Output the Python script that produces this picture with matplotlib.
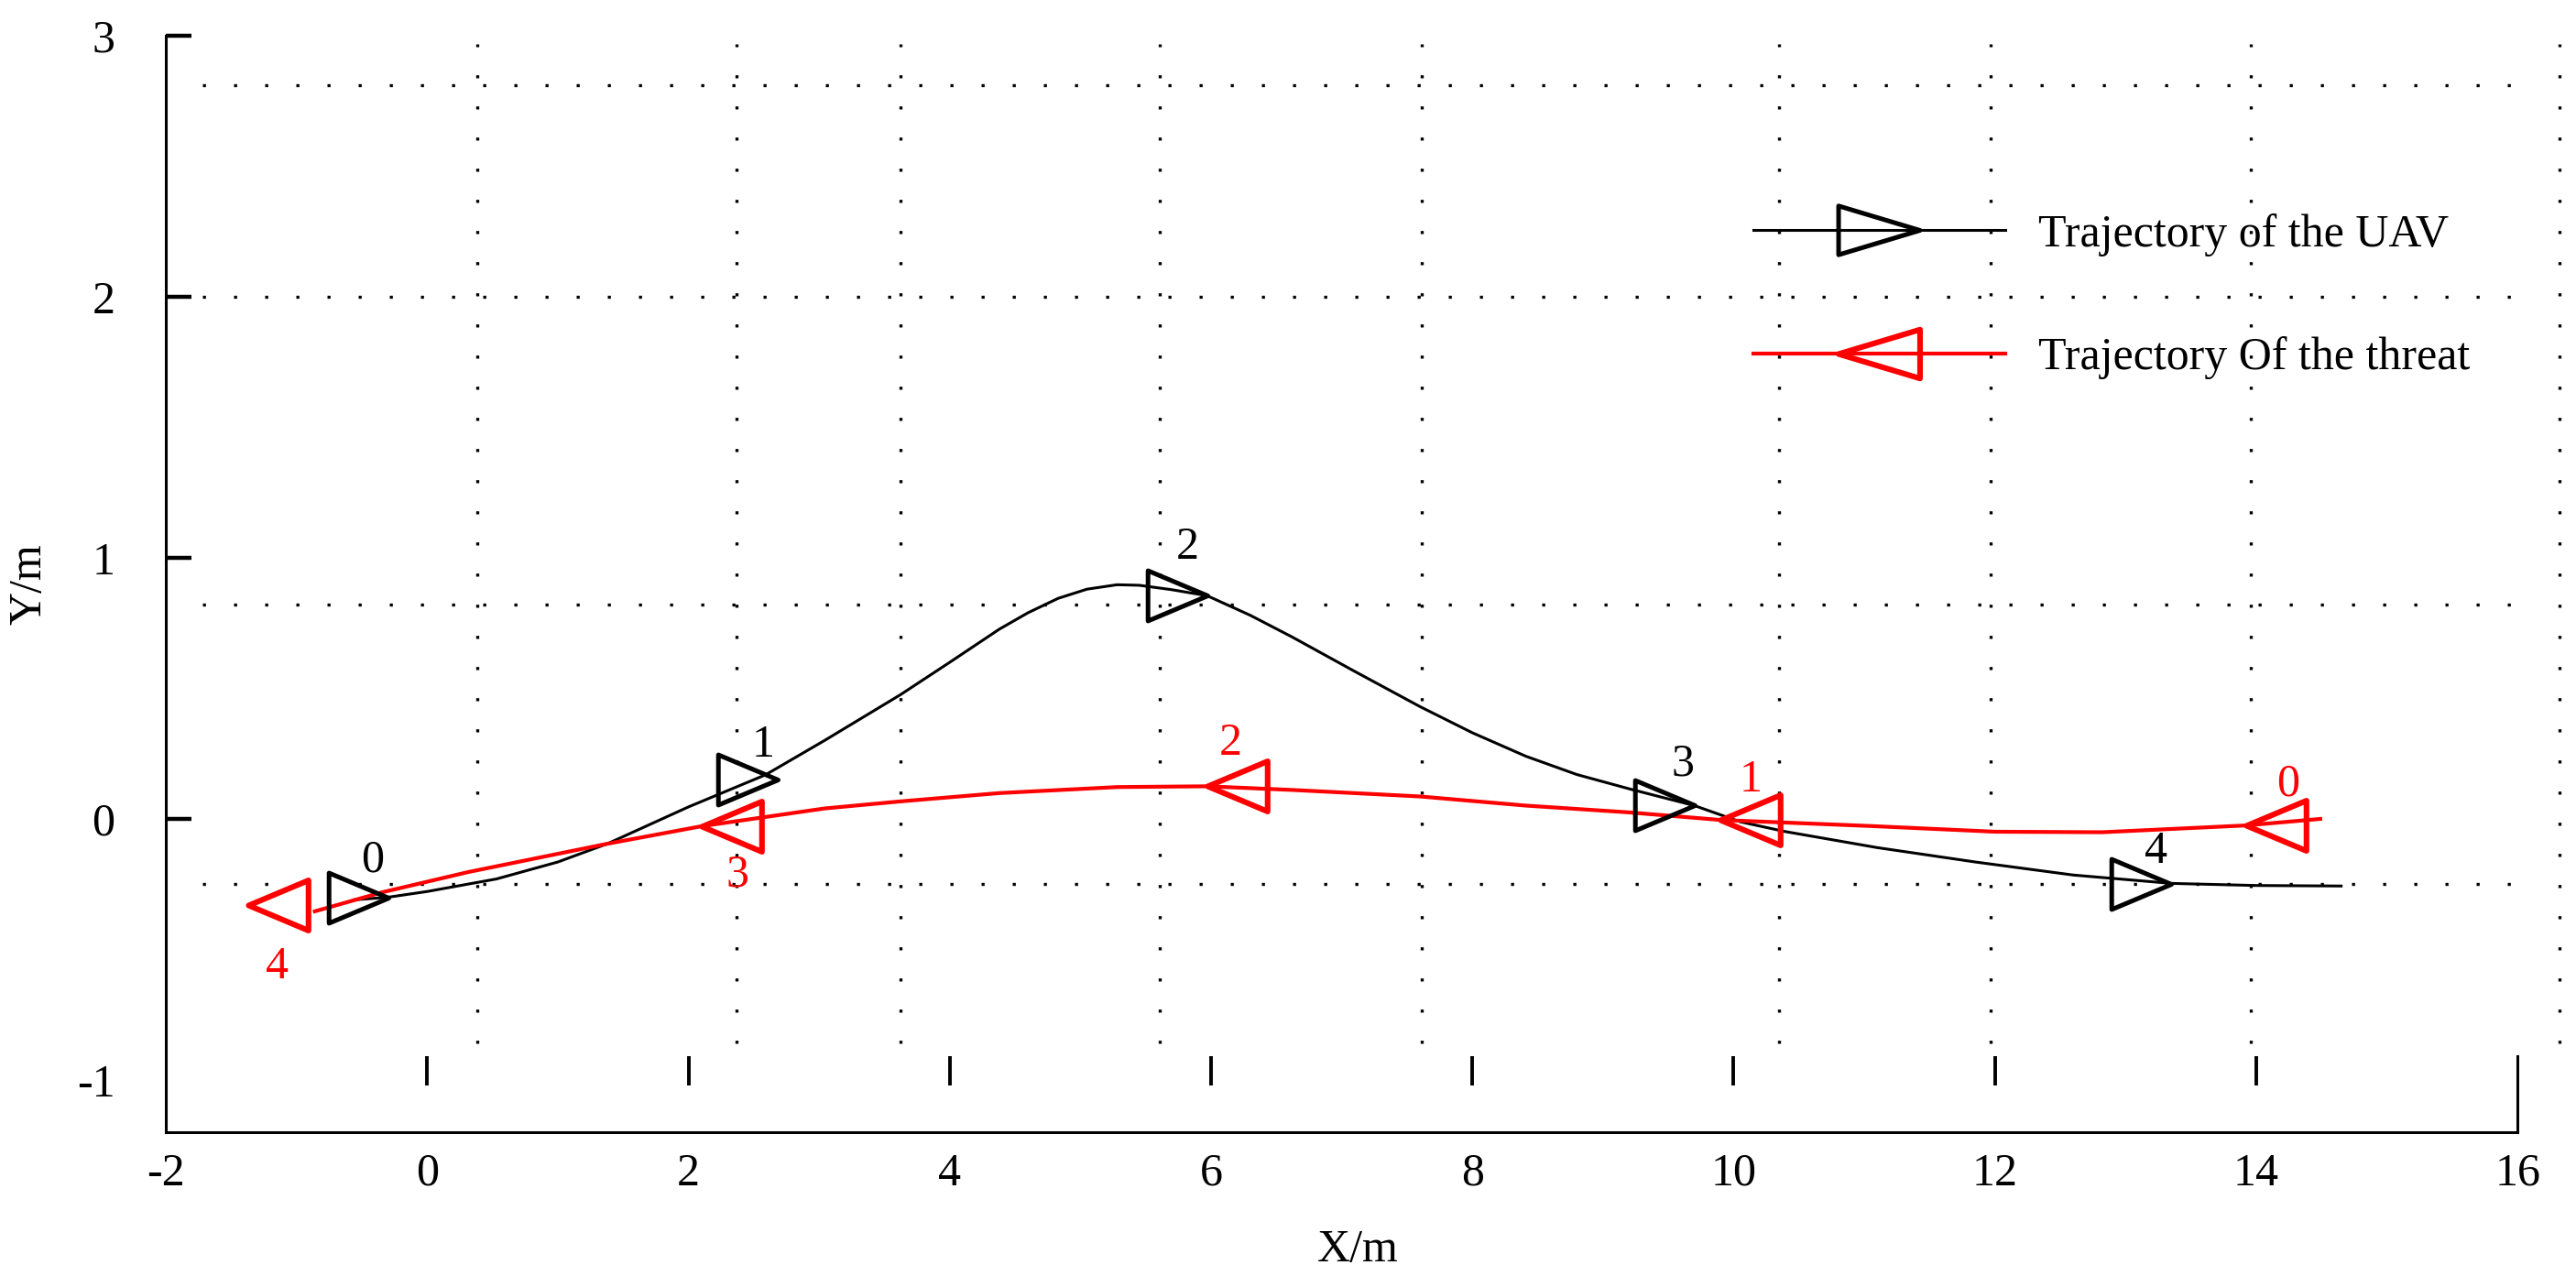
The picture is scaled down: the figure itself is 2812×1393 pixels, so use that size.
import matplotlib
matplotlib.use('Agg')
import matplotlib.pyplot as plt
from matplotlib.path import Path
from matplotlib.lines import Line2D

plt.rcParams['font.family'] = 'serif'
plt.rcParams['font.serif'] = ['Liberation Serif', 'DejaVu Serif']
plt.rcParams['axes.unicode_minus'] = False

# trajectoire du drone (noir)
uav_x = [-0.56, -0.30, 0.0, 0.53, 1.0, 1.38, 2.0, 2.59, 3.04, 3.62, 4.0, 4.38, 4.6, 4.83,
         5.05, 5.28, 5.45, 5.7, 5.97, 6.3, 6.62, 7.1, 7.60, 8.0, 8.41, 8.8, 9.21, 9.70,
         10.05, 10.39, 11.1, 11.85, 12.6, 13.35, 14.0, 14.65]
uav_y = [-0.31, -0.30, -0.278, -0.23, -0.165, -0.095, 0.046, 0.169, 0.30, 0.475, 0.6, 0.727,
         0.79, 0.845, 0.88, 0.897, 0.895, 0.878, 0.855, 0.78, 0.697, 0.565, 0.43, 0.33,
         0.24, 0.17, 0.114, 0.051, -0.011, -0.048, -0.11, -0.165, -0.215, -0.247, -0.255, -0.257]
uav_mark_x = [-0.30, 2.68, 5.97, 9.70, 13.35]
uav_mark_y = [-0.30, 0.15, 0.855, 0.051, -0.249]
uav_lab_x = [-0.42, 2.57, 5.82, 9.61, 13.23]
uav_lab_y = [-0.158, 0.282, 1.04, 0.208, -0.127]

# trajectoire de la menace (rouge)
red_x = [-0.86, -0.36, 0.31, 1.38, 2.10, 3.04, 3.62, 4.38, 5.28, 5.97, 6.62, 7.60,
         8.41, 9.2, 9.90, 11.04, 12.0, 12.82, 13.92, 14.49]
red_y = [-0.354, -0.283, -0.204, -0.095, -0.028, 0.04, 0.067, 0.099, 0.122, 0.125, 0.111, 0.086,
         0.051, 0.025, -0.004, -0.027, -0.049, -0.051, -0.025, 0.0]
red_mark_x = [13.92, 9.90, 5.97, 2.10, -1.37]
red_mark_y = [-0.025, -0.004, 0.125, -0.028, -0.33]
red_lab_x = [14.24, 10.13, 6.15, 2.375, -1.15]
red_lab_y = [0.134, 0.149, 0.287, -0.215, -0.566]
point_ids = ['0', '1', '2', '3', '4']

x_ticks = [-2, 0, 2, 4, 6, 8, 10, 12, 14, 16]
y_ticks = [-1, 0, 1, 2, 3]

# grille pointillee (decalee comme dans la figure d'origine)
grid_vx = [0.38, 2.37, 3.62, 5.61, 7.61, 10.35, 11.97, 13.96, 16.32]
grid_hy = [2.81, 2.0, 0.82, -0.25]

# marqueurs triangles avec la pointe sur le point
tri_r = Path([(0, 0), (-1, 0.42), (-1, -0.42), (0, 0)],
             [Path.MOVETO, Path.LINETO, Path.LINETO, Path.CLOSEPOLY])
tri_l = Path([(0, 0), (1, 0.42), (1, -0.42), (0, 0)],
             [Path.MOVETO, Path.LINETO, Path.LINETO, Path.CLOSEPOLY])
leg_r = Path([(0.5, 0), (-0.5, 0.3), (-0.5, -0.3), (0.5, 0)],
             [Path.MOVETO, Path.LINETO, Path.LINETO, Path.CLOSEPOLY])
leg_l = Path([(-0.5, 0), (0.5, 0.3), (0.5, -0.3), (-0.5, 0)],
             [Path.MOVETO, Path.LINETO, Path.LINETO, Path.CLOSEPOLY])

fs = 18

fig = plt.figure(figsize=(14.06, 6.965), dpi=200)
ax = fig.add_axes([0.0644, 0.1127, 0.9129, 0.8593])

dots = (0, (1, 9.2))
ax.vlines(grid_vx, -0.86, 2.97, colors='k', linestyles=dots, lw=1.2, clip_on=False)
ax.hlines(grid_hy, -1.72, 16.0, colors='k', linestyles=dots, lw=1.2, clip_on=False)

ax.plot(uav_x, uav_y, color='k', lw=1.1, zorder=3)
ax.plot(red_x, red_y, color='#ff0000', lw=1.5, zorder=3)
ax.plot(uav_mark_x, uav_mark_y, ls='none', marker=tri_r, ms=47, mfc='none',
        mec='k', mew=1.8, zorder=4)
ax.plot(red_mark_x, red_mark_y, ls='none', marker=tri_l, ms=47, mfc='none',
        mec='#ff0000', mew=2.2, zorder=4)

for i in range(5):
    ax.text(uav_lab_x[i], uav_lab_y[i], point_ids[i], fontsize=fs, color='k',
            ha='center', va='center')
    ax.text(red_lab_x[i], red_lab_y[i], point_ids[i], fontsize=fs, color='#ff0000',
            ha='center', va='center')

# petits traits de graduation en x
ax.vlines(x_ticks[1:-1], -1.02, -0.91, colors='k', lw=1.4)

ax.set_xlim(-2, 16)
ax.set_ylim(-1.2, 3)
ax.set_xticks(x_ticks)
ax.set_yticks(y_ticks)
ax.tick_params(axis='x', length=0, pad=8, labelsize=fs)
ax.tick_params(axis='y', direction='in', length=10, width=1.6, pad=20, labelsize=fs)
ax.yaxis.get_major_ticks()[0].tick1line.set_visible(False)

ax.spines['top'].set_visible(False)
ax.spines['right'].set_bounds(-1.2, -0.91)
for s in ['left', 'bottom', 'right']:
    ax.spines[s].set_linewidth(1.1)

ax.set_xlabel('X/m', fontsize=fs)
ax.set_ylabel('Y/m', fontsize=fs)
ax.xaxis.set_label_coords(0.507, -0.088)
ax.yaxis.set_label_coords(-0.049, 0.5)

handles = [Line2D([], [], color='k', lw=1.1, marker=leg_r, ms=32, mfc='none', mec='k', mew=1.8),
           Line2D([], [], color='#ff0000', lw=1.5, marker=leg_l, ms=32, mfc='none',
                  mec='#ff0000', mew=2.2)]
ax.legend(handles, ['Trajectory of the UAV', 'Trajectory Of the threat'],
          loc='upper left', bbox_to_anchor=(0.675, 0.838), frameon=False, fontsize=fs,
          handlelength=5.5, handletextpad=0.72, labelspacing=1.75, borderpad=0,
          borderaxespad=0, numpoints=1)

fig.savefig('out.png', dpi=200)
